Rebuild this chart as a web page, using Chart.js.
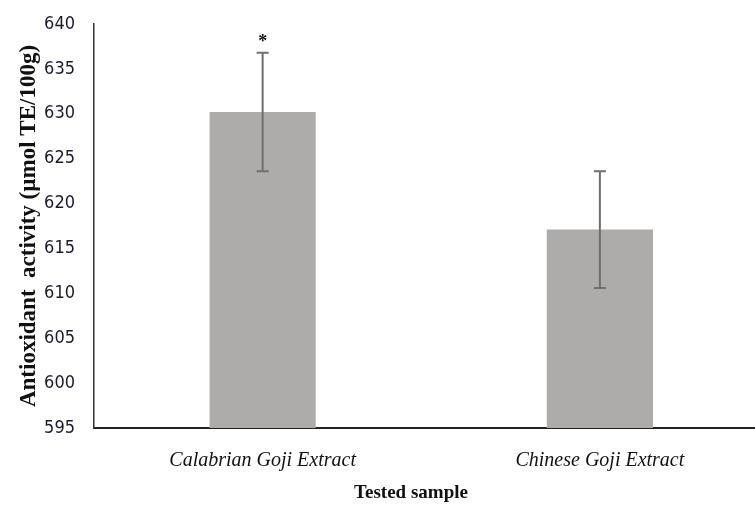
<!DOCTYPE html>
<html>
<head>
<meta charset="utf-8">
<script src="https://cdn.jsdelivr.net/npm/chart.js@4"></script>
<style>
  html, body { margin: 0; padding: 0; background: #fff; overflow: hidden; }
  #wrap { width: 770px; height: 506px; }
</style>
</head>
<body>
<div id="wrap"><canvas id="chart"></canvas></div>
<script>
const categories = ["Calabrian Goji Extract", "Chinese Goji Extract"];
const means = [630.2, 617.1];
const errors = [6.6, 6.5];
const marks = ["*", ""];
const yTicks = { min: 595, max: 640, step: 5 };
const xTitle = "Tested sample";
const yTitle = "Antioxidant  activity (µmol TE/100g)";

const BAR = "#aeabab";
const ERR = "#6f6f6f";

const errorBars = {
  id: "errorBars",
  afterDatasetsDraw(chart) {
    const ctx = chart.ctx;
    const y = chart.scales.y;
    const meta = chart.getDatasetMeta(0);
    ctx.save();
    meta.data.forEach((bar, i) => {
      const x = bar.x;
      const top = y.getPixelForValue(means[i] + errors[i]);
      const bot = y.getPixelForValue(means[i] - errors[i]);
      ctx.strokeStyle = ERR;
      ctx.lineWidth = 2;
      ctx.beginPath();
      ctx.moveTo(x, top); ctx.lineTo(x, bot);
      ctx.moveTo(x - 6, top); ctx.lineTo(x + 6, top);
      ctx.moveTo(x - 6, bot); ctx.lineTo(x + 6, bot);
      ctx.stroke();
      if (marks[i]) {
        ctx.fillStyle = "#111";
        ctx.font = "bold 18px 'Liberation Serif', serif";
        ctx.textAlign = "center";
        ctx.textBaseline = "middle";
        ctx.fillText(marks[i], x, top - 10);
      }
    });
    // x axis title sits a little left of the plot centre in the original
    ctx.fillStyle = "#111";
    ctx.font = "bold 19px 'Liberation Serif', serif";
    ctx.textAlign = "center";
    ctx.textBaseline = "middle";
    ctx.fillText(xTitle, 411, 493);
    ctx.restore();
  }
};

new Chart(document.getElementById("chart"), {
  type: "bar",
  data: {
    labels: categories,
    datasets: [{
      data: means,
      backgroundColor: BAR,
      borderWidth: 0,
      barPercentage: 0.315,
      categoryPercentage: 1
    }]
  },
  options: {
    responsive: true,
    maintainAspectRatio: false,
    animation: false,
    layout: { padding: { top: 24, right: 1.5, left: 0, bottom: 0 } },
    plugins: { legend: { display: false }, tooltip: { enabled: false } },
    scales: {
      x: {
        grid: { display: false, drawTicks: false },
        border: { color: "#222", width: 2 },
        ticks: {
          padding: 21,
          color: "#111",
          font: { family: "'Liberation Serif', serif", style: "italic", size: 20 }
        },
        afterFit(s) { s.height = 78; s.paddingLeft = 0; s.paddingRight = 0; }
      },
      y: {
        min: yTicks.min,
        max: yTicks.max,
        grid: { display: false, drawTicks: false },
        border: { color: "#333", width: 1.5 },
        ticks: {
          stepSize: yTicks.step,
          padding: 19,
          color: "#1a1a2a",
          font: { family: "'DejaVu Sans Condensed', 'DejaVu Sans', sans-serif", size: 18 }
        },
        title: {
          display: true,
          text: yTitle,
          color: "#111",
          padding: { top: 15, bottom: 0 },
          font: { family: "'Liberation Serif', serif", weight: "bold", size: 23 }
        },
        afterFit(s) { s.width = 94; s.paddingTop = 0; s.paddingBottom = 0; }
      }
    }
  },
  plugins: [errorBars]
});
</script>
</body>
</html>
